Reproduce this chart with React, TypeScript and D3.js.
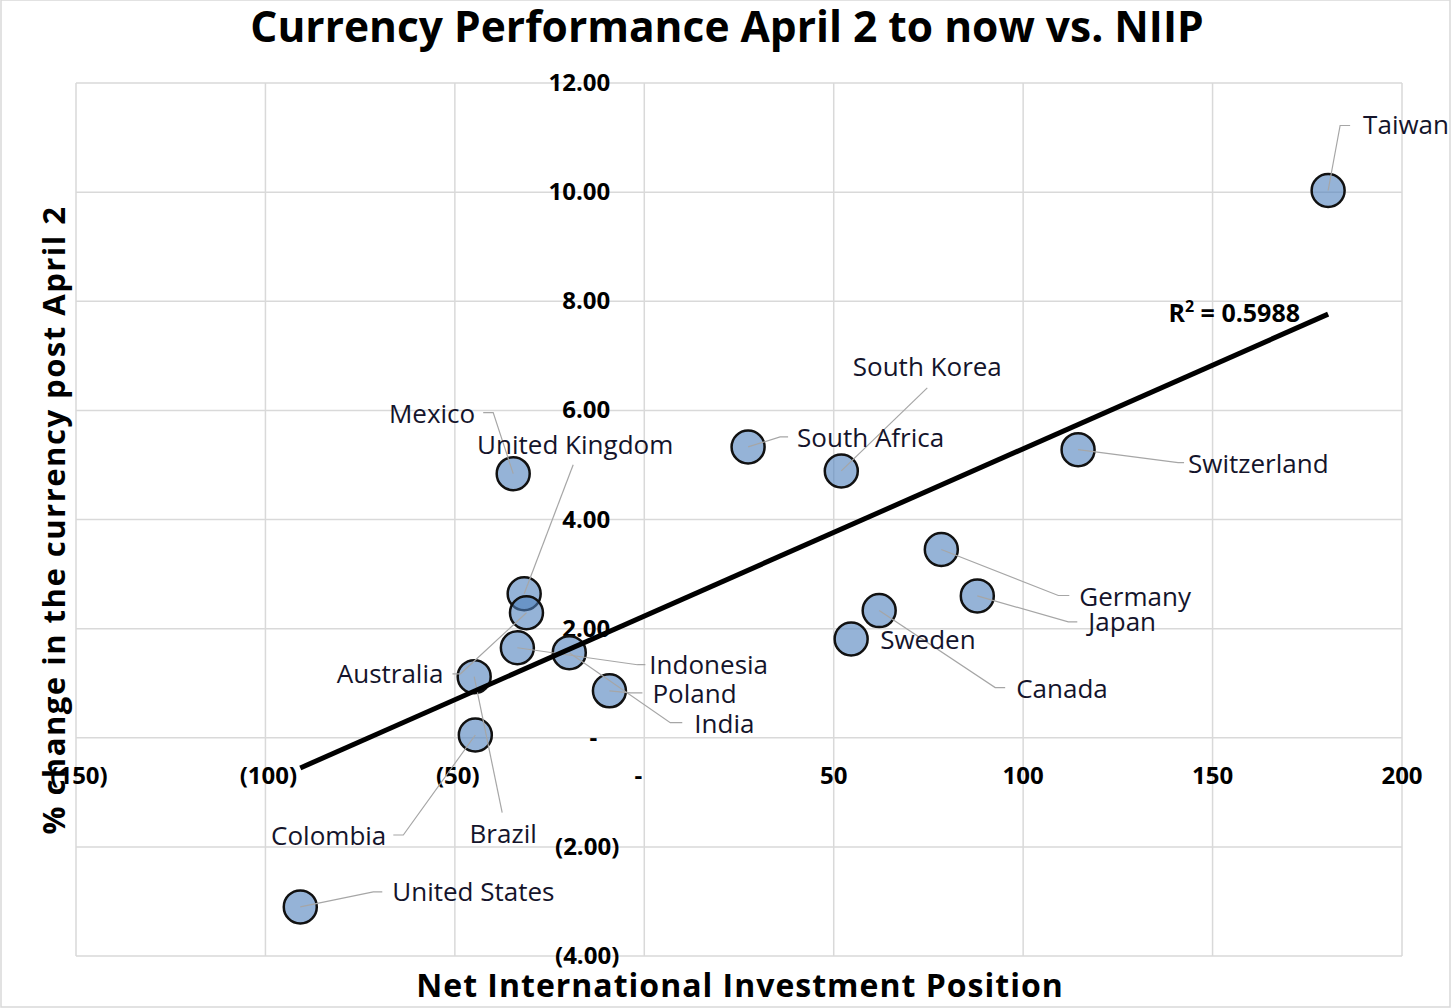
import React, { useEffect, useRef } from 'react';
import * as d3 from 'd3';

// Data
const countries = [
  'Taiwan', 'Switzerland', 'South Korea', 'South Africa', 'Germany', 'Japan',
  'Canada', 'Sweden', 'Mexico', 'United Kingdom', 'Australia', 'Indonesia',
  'India', 'Poland', 'Brazil', 'Colombia', 'United States',
];
const niip = [
  180.5, 114.5, 52, 27.4, 78.4, 87.9,
  62, 54.6, -34.6, -31.7, -31.1, -33.5,
  -19.8, -9.2, -44.9, -44.6, -90.8,
];
const fxChange = [
  10.03, 5.28, 4.89, 5.33, 3.45, 2.6,
  2.33, 1.81, 4.84, 2.64, 2.29, 1.65,
  1.56, 0.86, 1.12, 0.05, -3.1,
];

const xTickValues = [-150, -100, -50, 0, 50, 100, 150, 200];
const xTickLabels = ['(150)', '(100)', '(50)', '-', '50', '100', '150', '200'];
const yTickValues = [-4, -2, 0, 2, 4, 6, 8, 10, 12];
const yTickLabels = ['(4.00)', '(2.00)', '-', '2.00', '4.00', '6.00', '8.00', '10.00', '12.00'];

const rSquaredText = '0.5988';

// label placement, pixel offsets from each point
type LabelPos = { dx: number; dy: number; anchor: string; leader: number[][] };
const labelLayout: Record<string, LabelPos> = {
  Taiwan: { dx: 35, dy: -65, anchor: 'start', leader: [[12, -65], [22, -65]] },
  Switzerland: { dx: 110, dy: 14, anchor: 'start', leader: [[100, 13], [106, 13]] },
  'South Korea': { dx: 86, dy: -104, anchor: 'middle', leader: [[86, -83]] },
  'South Africa': { dx: 49, dy: -9, anchor: 'start', leader: [[32, -10], [40, -10]] },
  Germany: { dx: 138, dy: 47, anchor: 'start', leader: [[117, 46], [128, 46]] },
  Japan: { dx: 111, dy: 26, anchor: 'start', leader: [[91, 26], [100, 26]] },
  Canada: { dx: 137, dy: 78, anchor: 'start', leader: [[116, 77], [126, 77]] },
  Sweden: { dx: 29, dy: 1, anchor: 'start', leader: [] },
  Mexico: { dx: -38, dy: -60, anchor: 'end', leader: [[-20, -61], [-30, -61]] },
  'United Kingdom': { dx: 51, dy: -149, anchor: 'middle', leader: [[49, -129]] },
  Australia: { dx: -83, dy: 61, anchor: 'end', leader: [[-66, 61], [-74, 61]] },
  Indonesia: { dx: 132, dy: 17, anchor: 'start', leader: [[120, 17], [128, 17]] },
  India: { dx: 125, dy: 71, anchor: 'start', leader: [[101, 70], [113, 70]] },
  Poland: { dx: 43, dy: 3, anchor: 'start', leader: [[21, 2], [33, 2]] },
  Brazil: { dx: 29, dy: 157, anchor: 'middle', leader: [[28, 136]] },
  Colombia: { dx: -89, dy: 101, anchor: 'end', leader: [[-72, 100], [-82, 100]] },
  'United States': { dx: 92, dy: -15, anchor: 'start', leader: [[73, -15], [82, -15]] },
};

const W = 1456;
const H = 1008;
const FONT = '"Open Sans", "Noto Sans", sans-serif';

const App: React.FC = () => {
  const ref = useRef<SVGSVGElement | null>(null);

  useEffect(() => {
    const svg = d3.select(ref.current);
    svg.selectAll('*').remove();

    const x = d3.scaleLinear().domain([-150, 200]).range([76, 1402]);
    const y = d3.scaleLinear().domain([-4, 12]).range([956, 83]);

    // outer border
    svg.append('rect')
      .attr('x', 1).attr('y', 0).attr('width', 1449).attr('height', H - 1)
      .attr('fill', 'white').attr('stroke', '#d9d9d9').attr('stroke-width', 1.5);

    // gridlines
    svg.append('g').selectAll('line').data(xTickValues).enter().append('line')
      .attr('x1', (d) => x(d)).attr('x2', (d) => x(d))
      .attr('y1', y(12)).attr('y2', y(-4))
      .attr('stroke', '#d9d9d9').attr('stroke-width', 1.5);
    svg.append('g').selectAll('line').data(yTickValues).enter().append('line')
      .attr('x1', x(-150)).attr('x2', x(200))
      .attr('y1', (d) => y(d)).attr('y2', (d) => y(d))
      .attr('stroke', '#d9d9d9').attr('stroke-width', 1.5);

    // tick labels
    svg.append('g').selectAll('text').data(xTickValues).enter().append('text')
      .attr('x', (d) => x(d) + (d < 0 ? 3 : d === 0 ? -6 : 0))
      .attr('y', y(0) + 46)
      .attr('text-anchor', 'middle')
      .attr('font-family', FONT).attr('font-weight', 700).attr('font-size', 24)
      .attr('fill', '#000')
      .text((_, i) => xTickLabels[i]);
    svg.append('g').selectAll('text').data(yTickValues).enter().append('text')
      .attr('x', (d) => x(0) + (d < 0 ? -25 : d === 0 ? -47 : -34))
      .attr('y', (d) => y(d) + 8)
      .attr('text-anchor', 'end')
      .attr('font-family', FONT).attr('font-weight', 700).attr('font-size', 24)
      .attr('fill', '#000')
      .text((_, i) => yTickLabels[i]);

    // points
    const pts = countries.map((c, i) => ({ c, px: x(niip[i]), py: y(fxChange[i]) }));
    svg.append('g').selectAll('circle').data(pts).enter().append('circle')
      .attr('cx', (d) => d.px).attr('cy', (d) => d.py).attr('r', 16.5)
      .attr('fill', 'rgba(79,129,189,0.6)')
      .attr('stroke', '#111').attr('stroke-width', 2.5);

    // leader lines
    const line = d3.line();
    svg.append('g').selectAll('path').data(pts.filter((d) => labelLayout[d.c].leader.length)).enter()
      .append('path')
      .attr('d', (d) => line([[d.px, d.py], ...labelLayout[d.c].leader.map(([a, b]) => [d.px + a, d.py + b] as [number, number])]))
      .attr('fill', 'none').attr('stroke', '#a6a6a6').attr('stroke-width', 1.2);

    // labels
    svg.append('g').selectAll('text').data(pts).enter().append('text')
      .attr('x', (d) => d.px + labelLayout[d.c].dx)
      .attr('y', (d) => d.py + labelLayout[d.c].dy + 9)
      .attr('text-anchor', (d) => labelLayout[d.c].anchor)
      .attr('font-family', FONT).attr('font-size', 26)
      .attr('fill', '#14142b')
      .text((d) => d.c);

    // linear trendline (least squares)
    const mx = d3.mean(niip)!;
    const my = d3.mean(fxChange)!;
    const sxy = d3.sum(niip, (v, i) => (v - mx) * (fxChange[i] - my));
    const sxx = d3.sum(niip, (v) => (v - mx) ** 2);
    const slope = sxy / sxx;
    const icpt = my - slope * mx;
    const [x0, x1] = d3.extent(niip) as [number, number];
    svg.append('line')
      .attr('x1', x(x0)).attr('y1', y(icpt + slope * x0))
      .attr('x2', x(x1)).attr('y2', y(icpt + slope * x1))
      .attr('stroke', '#000').attr('stroke-width', 5);

    const rt = svg.append('text')
      .attr('x', 1300).attr('y', y(icpt + slope * x1) + 8)
      .attr('text-anchor', 'end')
      .attr('font-family', FONT).attr('font-weight', 700).attr('font-size', 25)
      .attr('fill', '#000');
    rt.append('tspan').text('R');
    rt.append('tspan').attr('font-size', 16).attr('dy', -10).text('2');
    rt.append('tspan').attr('dy', 10).text(` = ${rSquaredText}`);

    // titles
    svg.append('text')
      .attr('x', 727).attr('y', 42).attr('text-anchor', 'middle')
      .attr('font-family', FONT).attr('font-weight', 700).attr('font-size', 42.5)
      .text('Currency Performance April 2 to now vs. NIIP');
    svg.append('text')
      .attr('x', 740).attr('y', 997).attr('text-anchor', 'middle')
      .attr('font-family', FONT).attr('font-weight', 700).attr('font-size', 32)
      .attr('letter-spacing', 1)
      .text('Net International Investment Position');
    svg.append('text')
      .attr('transform', `translate(65,520) rotate(-90)`)
      .attr('text-anchor', 'middle')
      .attr('font-family', FONT).attr('font-weight', 700).attr('font-size', 31)
      .attr('letter-spacing', 1.5)
      .text('% change in the currency post April 2');
  }, []);

  return (
    <svg
      ref={ref}
      width={W}
      height={H}
      style={{ position: 'absolute', left: 0, top: 0, background: 'white' }}
    />
  );
};

export default App;
